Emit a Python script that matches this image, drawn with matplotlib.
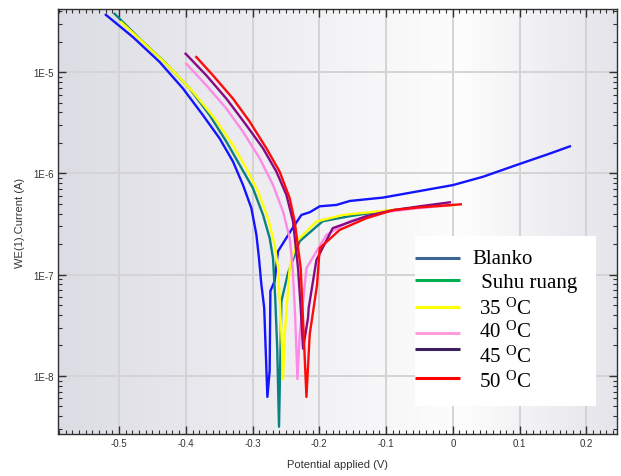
import matplotlib
matplotlib.use("Agg")
import matplotlib.pyplot as plt
import matplotlib.ticker as mticker
from matplotlib.colors import LinearSegmentedColormap
from matplotlib.patches import Rectangle
import numpy as np

# polarisation curves: potential (V) vs current (A)
blanko_v = [-0.5198, -0.4793, -0.4393, -0.4043, -0.3744, -0.3493, -0.3294, -0.3144, -0.3018,
            -0.2943, -0.2904, -0.2871, -0.2826, -0.2778,
            -0.2744, -0.2733, -0.2669, -0.2619, -0.2418, -0.2268, -0.2144, -0.1994, -0.1744, -0.1544,
            -0.1045, -0.0544, 0.0004, 0.0454, 0.0955, 0.1454, 0.1754]
blanko_i = [3.68e-5, 2.22e-5, 1.26e-5, 6.89e-6, 3.76e-6, 2.21e-6, 1.31e-6, 7.69e-7, 4.54e-7,
            2.48e-7, 1.46e-7, 8.3e-8, 4.7e-8, 6.2e-9,
            1.12e-8, 6.9e-8, 8.65e-8, 1.70e-7, 2.77e-7, 3.89e-7, 4.13e-7, 4.73e-7, 4.88e-7, 5.34e-7,
            5.77e-7, 6.61e-7, 7.67e-7, 9.27e-7, 1.21e-6, 1.57e-6, 1.85e-6]

ruang_v = [-0.5067, -0.4693, -0.4292, -0.3943, -0.3643, -0.3393, -0.3193, -0.2994, -0.2844,
           -0.2744, -0.2694, -0.2661, -0.2631, -0.2604,
           -0.2568, -0.2469, -0.2294, -0.1949, -0.1544, -0.105, -0.0544, -0.0195]
ruang_i = [3.77e-5, 2.14e-5, 1.21e-5, 6.89e-6, 3.76e-6, 2.06e-6, 1.21e-6, 7.13e-7, 3.90e-7,
           2.30e-7, 1.46e-7, 5.9e-8, 1.9e-8, 3.15e-9,
           5.47e-8, 1.04e-7, 2.14e-7, 3.37e-7, 3.78e-7, 4.23e-7, 4.59e-7, 4.95e-7]

t35_v = [-0.4967, -0.4643, -0.4243, -0.3894, -0.3568, -0.3294, -0.3093, -0.2919, -0.2769,
         -0.2669, -0.2619, -0.2586, -0.2559, -0.2544,
         -0.2519, -0.2444, -0.2343, -0.2043, -0.1645, -0.1045, -0.0544, 0.0]
t35_i = [3.12e-5, 1.98e-5, 1.12e-5, 6.38e-6, 3.48e-6, 1.90e-6, 1.12e-6, 6.62e-7, 3.61e-7,
         1.97e-7, 1.16e-7, 4.7e-8, 1.9e-8, 9.3e-9,
         2.57e-8, 1.16e-7, 2.13e-7, 3.35e-7, 3.89e-7, 4.26e-7, 4.59e-7, 4.84e-7]

t40_v = [-0.3993, -0.3693, -0.3393, -0.3144, -0.2894, -0.2694, -0.2544, -0.2444, -0.2399,
         -0.2361, -0.2328,
         -0.2294, -0.2193, -0.1894, -0.1544, -0.105, -0.0544, -0.0045]
t40_i = [1.21e-5, 7.41e-6, 4.37e-6, 2.58e-6, 1.41e-6, 7.69e-7, 4.21e-7, 2.30e-7, 1.16e-7,
         3.75e-8, 9.3e-9,
         2.57e-8, 1.16e-7, 2.47e-7, 3.37e-7, 4.13e-7, 4.52e-7, 4.84e-7]

t45_v = [-0.4003, -0.3693, -0.3393, -0.3093, -0.2844, -0.2643, -0.2493, -0.2394, -0.2319,
         -0.2279, -0.2244,
         -0.2169, -0.2159, -0.2044, -0.1799, -0.1294, -0.090, -0.0495, -0.0045]
t45_i = [1.52e-5, 9.30e-6, 5.48e-6, 2.99e-6, 1.77e-6, 1.04e-6, 6.12e-7, 3.36e-7, 1.16e-7,
         4.7e-8, 1.86e-8,
         3.75e-8, 4.70e-8, 1.39e-7, 2.88e-7, 3.78e-7, 4.33e-7, 4.73e-7, 5.18e-7]

t50_v = [-0.3843, -0.3594, -0.3294, -0.3043, -0.2793, -0.2594, -0.2444, -0.2369, -0.2279,
         -0.2234, -0.2193,
         -0.2144, -0.2034, -0.1994, -0.1694, -0.1294, -0.090, -0.0495, 0.012]
t50_i = [1.41e-5, 9.30e-6, 5.48e-6, 3.24e-6, 1.77e-6, 1.04e-6, 5.69e-7, 3.36e-7, 1.16e-7,
         2.57e-8, 6.2e-9,
         2.57e-8, 7.96e-8, 1.83e-7, 2.77e-7, 3.61e-7, 4.33e-7, 4.62e-7, 4.95e-7]

labels = ["Blanko", " Suhu ruang", "35 $^{\\mathrm{O}}$C", "40 $^{\\mathrm{O}}$C",
          "45 $^{\\mathrm{O}}$C", "50 $^{\\mathrm{O}}$C"]
line_colors = ["#1414ff", "#0a8080", "#ffff00", "#ff8ae6", "#860a86", "#ff0a0a"]
legend_colors = ["#3c6494", "#00b050", "#ffff00", "#ff9edd", "#3a1f5c", "#ff0000"]

plt.rcParams["mathtext.fontset"] = "custom"
plt.rcParams["mathtext.rm"] = "Liberation Serif"
plt.rcParams["mathtext.it"] = "Liberation Serif"

fig = plt.figure(figsize=(6.21, 4.77), dpi=100)
ax = fig.add_axes([0.0934, 0.0881, 0.9002, 0.8909])

# background gradient (grey at the edges, white towards the right middle)
cmap = LinearSegmentedColormap.from_list(
    "bg", [(0.0, "#dcdce4"), (0.55, "#f6f6f8"), (0.72, "#fdfdfd"), (1.0, "#e4e4ea")])
ax.imshow(np.linspace(0, 1, 256).reshape(1, -1), cmap=cmap, aspect="auto",
          extent=[0, 1, 0, 1], transform=ax.transAxes, zorder=0)

series = [(blanko_v, blanko_i), (ruang_v, ruang_i), (t35_v, t35_i),
          (t40_v, t40_i), (t45_v, t45_i), (t50_v, t50_i)]
for (v, i), c in zip(series, line_colors):
    ax.plot(v, i, color=c, lw=1.7, zorder=3)

ax.set_yscale("log")
ax.set_xlim(-0.5915, 0.246)
ax.set_ylim(2.67e-9, 4.2e-5)

ax.set_xticks([-0.5, -0.4, -0.3, -0.2, -0.1, 0, 0.1, 0.2])
ax.set_xticklabels(["-0.5", "-0.4", "-0.3", "-0.2", "-0.1", "0", "0.1", "0.2"])
ax.xaxis.set_minor_locator(mticker.MultipleLocator(0.01))
ax.yaxis.set_major_locator(mticker.FixedLocator([1e-8, 1e-7, 1e-6, 1e-5]))
ax.yaxis.set_major_formatter(mticker.FuncFormatter(lambda y, p: "1E%d" % round(np.log10(y))))
ax.yaxis.set_minor_locator(mticker.LogLocator(base=10, subs=np.arange(2, 10)))
ax.yaxis.set_minor_formatter(mticker.NullFormatter())

ax.tick_params(which="both", direction="in", top=True, right=True, colors="#303030",
               labelsize=7, labelcolor="#333333", pad=3)
ax.tick_params(which="major", length=6, width=1)
ax.tick_params(which="minor", length=3, width=0.8)
for lab in ax.get_xticklabels() + ax.get_yticklabels():
    lab.set_fontfamily("Liberation Sans")

ax.grid(True, which="major", color="#d4d4d4", lw=1.4, zorder=1)
ax.set_axisbelow(True)
for s in ax.spines.values():
    s.set_color("#303030")
    s.set_linewidth(1)

ax.set_xlabel("Potential applied (V)", fontsize=8, color="#333333",
              family="Liberation Sans", labelpad=8)
ax.set_ylabel("WE(1).Current (A)", fontsize=8, color="#333333",
              family="Liberation Sans", labelpad=6)

# legend box drawn by hand (its colours differ from the curves)
ax.add_patch(Rectangle((0.6386, 0.0659), 0.3238, 0.40, transform=ax.transAxes,
                       facecolor="white", edgecolor="none", zorder=5))
line_y = [0.4141, 0.3612, 0.2988, 0.2384, 0.2008, 0.1318]
text_y = [0.4118, 0.3576, 0.2965, 0.2424, 0.1835, 0.1247]
text_x = [0.7410, 0.7470, 0.7530, 0.7530, 0.7530, 0.7530]
for ly, ty, tx, lab, c in zip(line_y, text_y, text_x, labels, legend_colors):
    ax.plot([0.6386, 0.7190], [ly, ly], color=c, lw=2.2, transform=ax.transAxes,
            zorder=6, solid_capstyle="butt")
    ax.text(tx, ty, lab, transform=ax.transAxes, fontsize=15, family="Liberation Serif",
            va="center", ha="left", zorder=6)

fig.savefig("out.png", dpi=100)
